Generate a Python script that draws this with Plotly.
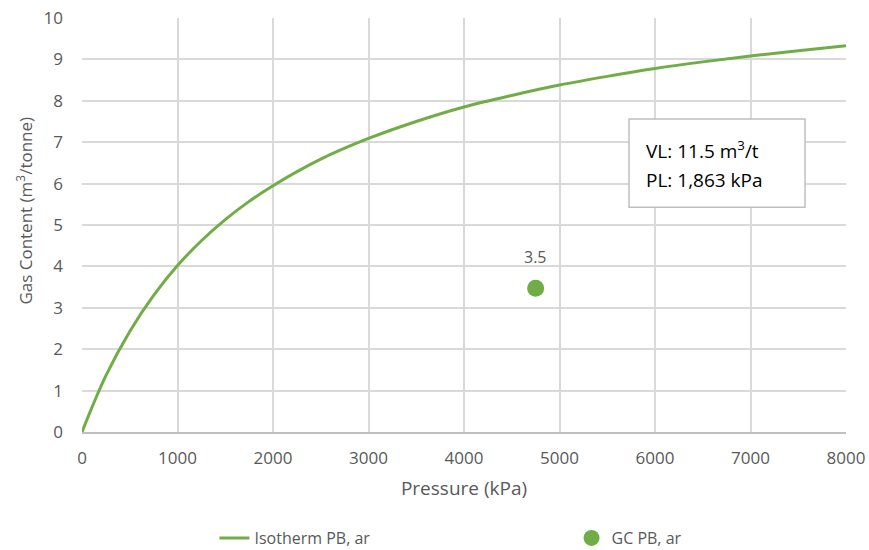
import plotly.graph_objects as go

# Isotherm curve
pressure_kpa = [0, 250, 500, 750, 1000, 1250, 1500, 1750, 2000, 2500, 3000, 3500,
                4000, 4500, 5000, 5500, 6000, 6500, 7000, 7500, 8000]
gas_content = [0, 1.36, 2.43, 3.30, 4.02, 4.62, 5.13, 5.57, 5.95, 6.59, 7.09, 7.50,
               7.85, 8.13, 8.38, 8.59, 8.78, 8.94, 9.08, 9.21, 9.33]

# Gas content measurement point
gc_pressure = [4750]
gc_value = [3.47]

GREEN = "#70AD47"
GRID = "#D9D9D9"
TXT = "#595959"
FONT = "Open Sans"

fig = go.Figure()
fig.add_trace(go.Scatter(
    x=pressure_kpa, y=gas_content, mode="lines", name="Isotherm PB, ar",
    line=dict(color=GREEN, width=3, shape="spline"), legend="legend",
))
fig.add_trace(go.Scatter(
    x=gc_pressure, y=gc_value, mode="markers", name="GC PB, ar",
    marker=dict(color=GREEN, size=17), legend="legend2",
))
fig.add_annotation(xref="x", yref="y", x=gc_pressure[0], y=gc_value[0],
                   text=f"{gc_value[0]:.1f}", showarrow=False, yshift=31,
                   font=dict(family=FONT, size=16, color=TXT))

# Info box
fig.add_shape(type="rect", xref="x", yref="y", x0=5728, x1=7571, y0=5.43, y1=7.56,
              line=dict(color="#BFBFBF", width=1.5), fillcolor="white", layer="above")
fig.add_annotation(xref="x", yref="y", x=5880, y=6.81, xanchor="left",
                   text="VL: 11.5 m<sup>3</sup>/t", showarrow=False,
                   font=dict(family=FONT, size=19, color="#000000"))
fig.add_annotation(xref="x", yref="y", x=5880, y=6.09, xanchor="left",
                   text="PL: 1,863 kPa", showarrow=False,
                   font=dict(family=FONT, size=19, color="#000000"))

# Y axis title (placed as annotation to match the original's placement)
fig.add_annotation(xref="paper", yref="paper", x=-0.075, y=0.534, xanchor="center",
                   yanchor="middle", textangle=-90, showarrow=False,
                   text="Gas Content (m<sup>3</sup>/tonne)",
                   font=dict(family=FONT, size=17, color=TXT))

legend_common = dict(orientation="h", xref="container", yref="container",
                     yanchor="middle", y=0.0218, xanchor="left",
                     bgcolor="rgba(0,0,0,0)",
                     font=dict(family=FONT, size=16, color=TXT))

fig.update_layout(
    width=869, height=550,
    margin=dict(l=82, r=23, t=18, b=118),
    paper_bgcolor="white", plot_bgcolor="white",
    font=dict(family=FONT, color=TXT, size=16),
    showlegend=True,
    legend=dict(x=0.2468, **legend_common),
    legend2=dict(x=0.6577, **legend_common),
    xaxis=dict(range=[0, 8000], dtick=1000, tick0=0, showgrid=True, gridcolor=GRID,
               gridwidth=1.5, zeroline=False, showline=True, linecolor="#BFBFBF",
               linewidth=1.5, ticks="", automargin=False, ticklabelstandoff=10,
               ticklabeloverflow="allow",
               tickfont=dict(size=17, color=TXT),
               title=dict(text="Pressure (kPa)", font=dict(size=19, color=TXT), standoff=14)),
    yaxis=dict(range=[0, 10], dtick=1, tick0=0, showgrid=True, gridcolor=GRID,
               gridwidth=1.5, zeroline=False, showline=False, ticks="",
               automargin=False, ticklabelstandoff=18, ticklabeloverflow="allow",
               tickfont=dict(size=17, color=TXT)),
)

fig.write_html(
    "out.html",
    config={"displayModeBar": False},
    post_script="document.body.style.margin='0';document.body.style.overflow='hidden';",
)
